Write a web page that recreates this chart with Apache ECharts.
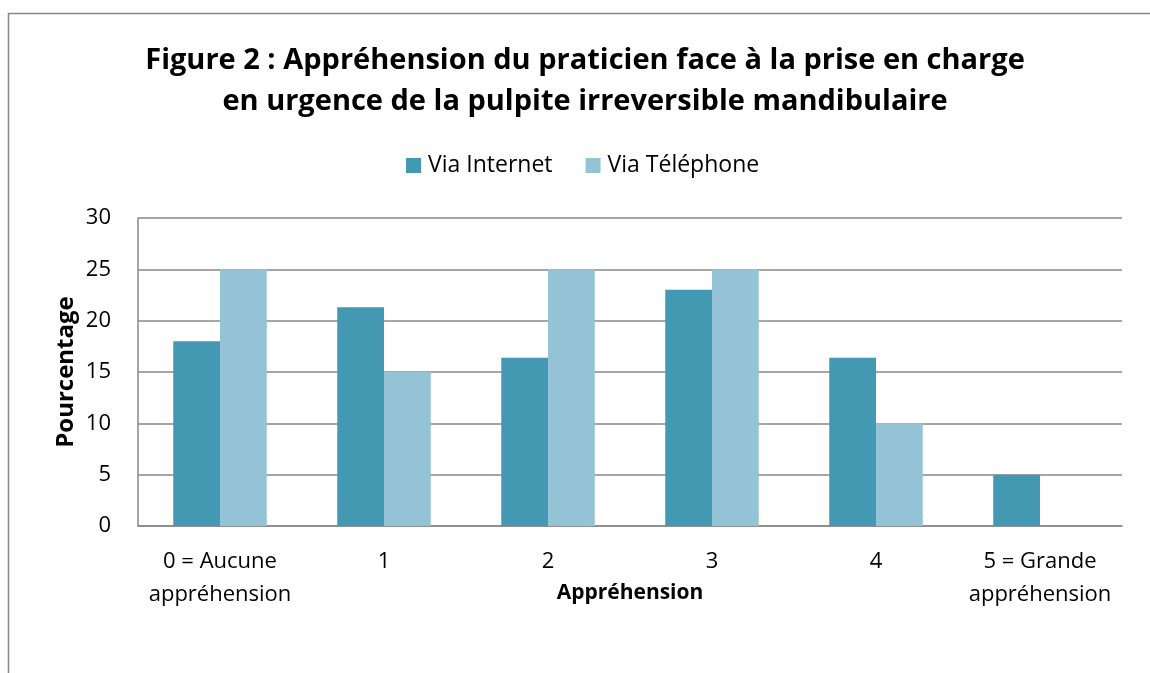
<!DOCTYPE html>
<html><head><meta charset="utf-8">
<script src="https://cdn.jsdelivr.net/npm/echarts@6/dist/echarts.min.js"></script>
<style>html,body{margin:0;padding:0;background:#fff}#c{width:1150px;height:673px}</style>
</head><body><div id="c"></div>
<script>
const categories = ['0 = Aucune\nappréhension', '1', '2', '3', '4', '5 = Grande\nappréhension'];
const internet = [18, 21.3, 16.4, 23, 16.4, 5];
const telephone = [25, 15, 25, 25, 10, 0];
const seriesNames = ['Via Internet', 'Via Téléphone'];
const yTicks = {min: 0, max: 30, interval: 5};

const FONT = 'Open Sans';
const chart = echarts.init(document.getElementById('c'));
chart.setOption({
  animation: false,
  backgroundColor: '#fff',
  textStyle: {fontFamily: FONT},
  title: {
    text: 'Figure 2 : Appréhension du praticien face à la prise en charge\nen urgence de la pulpite irreversible mandibulaire',
    left: 580, top: 35, textAlign: 'center',
    textStyle: {fontFamily: FONT, fontSize: 29, fontWeight: 'bold', color: '#000', lineHeight: 41}
  },
  legend: {
    data: seriesNames, top: 149, left: 401, itemWidth: 15, itemHeight: 15, itemGap: 33,
    icon: 'rect',
    textStyle: {fontFamily: FONT, fontSize: 23, color: '#000', padding: [0, 0, 0, 2]}
  },
  graphic: [{
    type: 'rect', shape: {x: 8.5, y: 13.5, width: 1200, height: 700},
    style: {fill: 'none', stroke: '#898989', lineWidth: 1.5}, silent: true, z: -1
  }],
  grid: {left: 138, right: 28, top: 218, bottom: 147, containLabel: false},
  xAxis: {
    type: 'category', data: categories,
    name: 'Appréhension', nameLocation: 'middle', nameGap: 57, nameMoveOverlap: false,
    nameTextStyle: {fontFamily: FONT, fontSize: 21, fontWeight: 'bold', color: '#000'},
    axisLine: {lineStyle: {color: '#898989', width: 1.5}},
    axisTick: {show: false},
    axisLabel: {fontFamily: FONT, fontSize: 22, color: '#000', margin: 19, lineHeight: 33, interval: 0}
  },
  yAxis: {
    type: 'value', min: yTicks.min, max: yTicks.max, interval: yTicks.interval,
    name: 'Pourcentage', nameLocation: 'middle', nameGap: 60, nameMoveOverlap: false,
    nameTextStyle: {fontFamily: FONT, fontSize: 24, fontWeight: 'bold', color: '#000'},
    axisLine: {show: true, lineStyle: {color: '#898989', width: 1.5}},
    axisTick: {show: false},
    axisLabel: {fontFamily: FONT, fontSize: 22, color: '#000', margin: 27},
    splitLine: {lineStyle: {color: '#898989', width: 1.5}}
  },
  series: [
    {name: seriesNames[0], type: 'bar', data: internet, barGap: '0%', barCategoryGap: '43%', itemStyle: {color: '#4399b1'}},
    {name: seriesNames[1], type: 'bar', data: telephone, barGap: '0%', barCategoryGap: '43%', itemStyle: {color: '#93c3d5'}}
  ]
});
</script></body></html>
